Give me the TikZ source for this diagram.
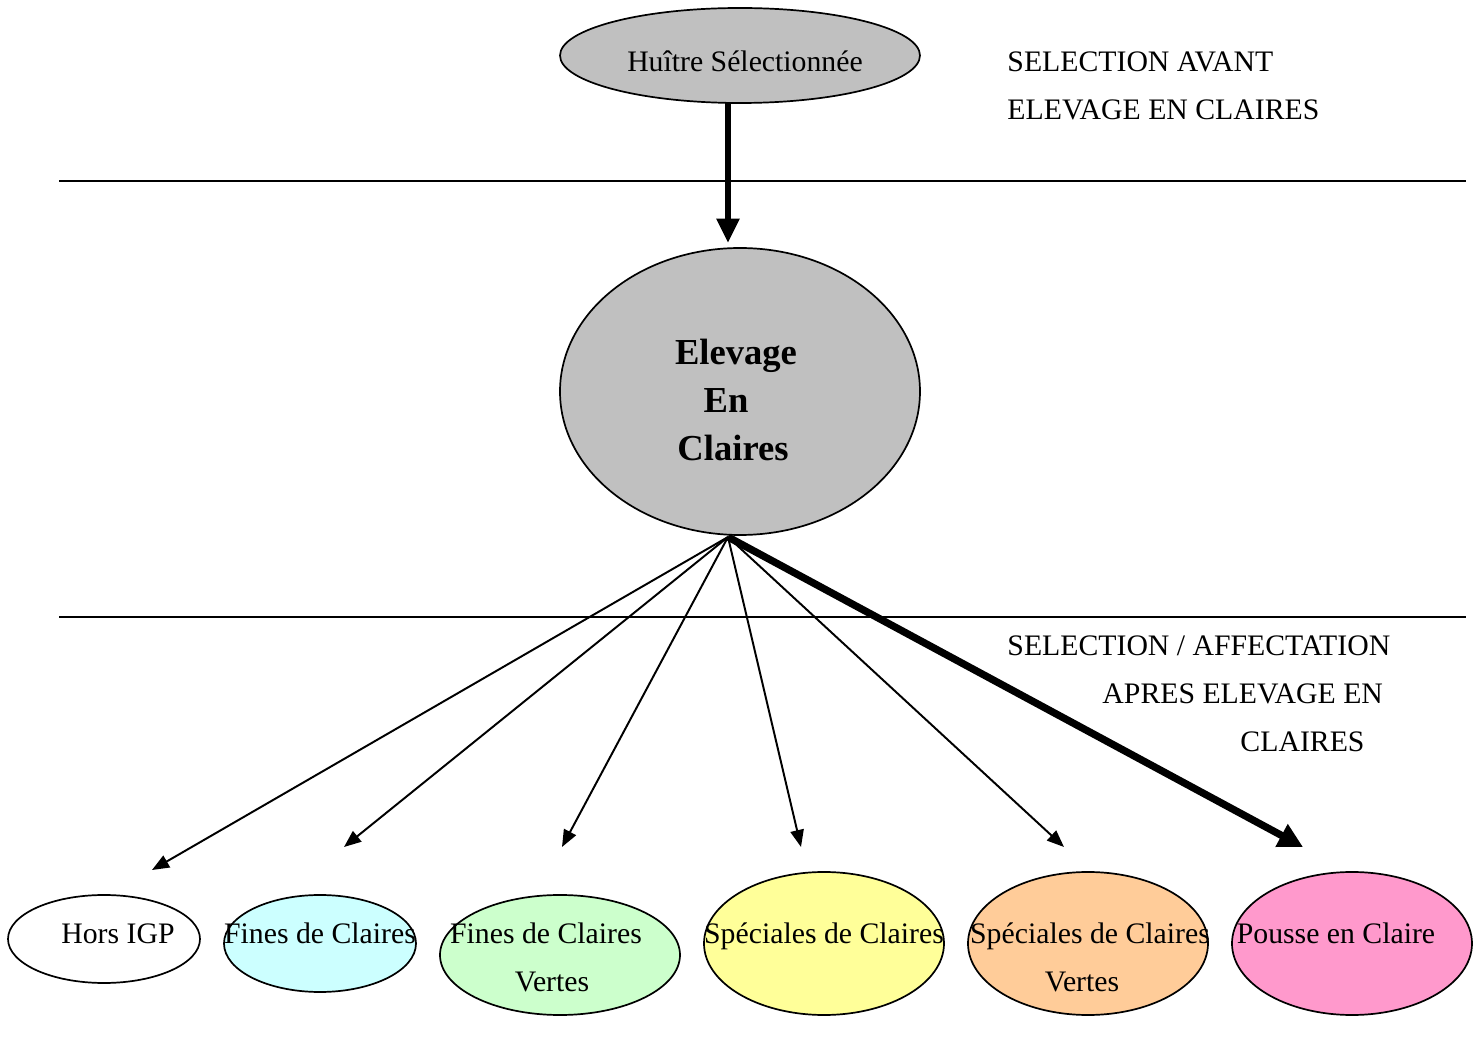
\documentclass[tikz,border=0pt]{standalone}
\usepackage{fontspec}
\setmainfont{Liberation Serif}
\usetikzlibrary{arrows.meta,shapes.geometric}
\definecolor{grayfill}{RGB}{192,192,192}
\definecolor{cyanfill}{RGB}{204,255,255}
\definecolor{greenfill}{RGB}{204,255,204}
\definecolor{yellowfill}{RGB}{255,255,153}
\definecolor{orangefill}{RGB}{255,204,153}
\definecolor{pinkfill}{RGB}{255,153,204}
\begin{document}
\begin{tikzpicture}[x=0.41pt,y=-0.41pt,
  oval/.style={ellipse, draw=black, line width=0.7pt, inner sep=0pt},
  lbl/.style={font=\fontsize{12.2}{14}\selectfont, inner sep=0pt, anchor=base west},
  lblc/.style={font=\fontsize{12.2}{14}\selectfont, inner sep=0pt, anchor=base},
  bigl/.style={font=\fontsize{15}{18}\selectfont\bfseries, inner sep=0pt, anchor=base},
  rule/.style={line width=0.6pt},
  thin/.style={line width=0.8pt, -{Triangle[length=7pt,width=5.5pt]}},
  thick/.style={line width=3pt, -{Triangle[length=10pt,width=10pt]}},
  vert/.style={line width=2.4pt, -{Triangle[length=10pt,width=9pt]}}]
\useasboundingbox (0,0) rectangle (1482,1052);
% separator lines
\coordinate (r1a) at (59,181); \coordinate (r1b) at (1466,181);
\coordinate (r2a) at (59,617); \coordinate (r2b) at (1466,617);
\draw[rule] (r1a) -- (r1b);
\draw[rule] (r2a) -- (r2b);
% top
\node[oval, fill=grayfill, minimum width=147.6pt, minimum height=38.95pt] (top) at (740,55.5) {};
\node[lblc] (topt) at (745,72) {Huître Sélectionnée};
% big
\node[oval, fill=grayfill, minimum width=147.6pt, minimum height=117.67pt] (big) at (740,391.5) {};
\node[bigl] (bigt1) at (736,365) {Elevage};
\node[bigl] (bigt2) at (726,413) {En};
\node[bigl] (bigt3) at (733,461) {Claires};
% right texts
\node[lbl] (s1) at (1007,72) {SELECTION AVANT};
\node[lbl] (s2) at (1007,120) {ELEVAGE EN CLAIRES};
\node[lbl] (s3) at (1007,656) {SELECTION / AFFECTATION};
\node[lbl] (s4) at (1102,704) {APRES ELEVAGE EN};
\node[lbl] (s5) at (1240,752) {CLAIRES};
% bottom ellipses
\node[oval, fill=white, minimum width=78.72pt, minimum height=36.08pt] (hors) at (104,939) {};
\node[oval, fill=cyanfill, minimum width=78.72pt, minimum height=39.77pt] (fines) at (320,943.5) {};
\node[oval, fill=greenfill, minimum width=98.4pt, minimum height=49.2pt] (finesv) at (560,955) {};
\node[oval, fill=yellowfill, minimum width=98.4pt, minimum height=58.63pt] (spec) at (824,943.5) {};
\node[oval, fill=orangefill, minimum width=98.4pt, minimum height=58.63pt] (specv) at (1088,943.5) {};
\node[oval, fill=pinkfill, minimum width=98.4pt, minimum height=58.63pt] (pousse) at (1352,943.5) {};
\node[lblc] (horst) at (118,944) {Hors IGP};
\node[lblc] (finest) at (320,944) {Fines de Claires};
\node[lblc] (finesvt1) at (546,944) {Fines de Claires};
\node[lblc] (finesvt2) at (552,992) {Vertes};
\node[lblc] (spect) at (824,944) {Spéciales de Claires};
\node[lblc] (specvt1) at (1090,944) {Spéciales de Claires};
\node[lblc] (specvt2) at (1082,992) {Vertes};
\node[lblc] (poussetxt) at (1336,944) {Pousse en Claire};
% arrows
\coordinate (topout) at (728,103);
\coordinate (bigin) at (728,243);
\coordinate (fan) at (728,537);
\coordinate (t1) at (152,870);
\coordinate (t2) at (344,847);
\coordinate (t3) at (562,847);
\coordinate (t4) at (801,847);
\coordinate (t5) at (1064,847);
\coordinate (t6) at (1303,847);
\draw[vert] (topout) -- (bigin);
\draw[thin] (fan) -- (t1);
\draw[thin] (fan) -- (t2);
\draw[thin] (fan) -- (t3);
\draw[thin] (fan) -- (t4);
\draw[thin] (fan) -- (t5);
\draw[thick] (fan) -- (t6);
\end{tikzpicture}
\end{document}
